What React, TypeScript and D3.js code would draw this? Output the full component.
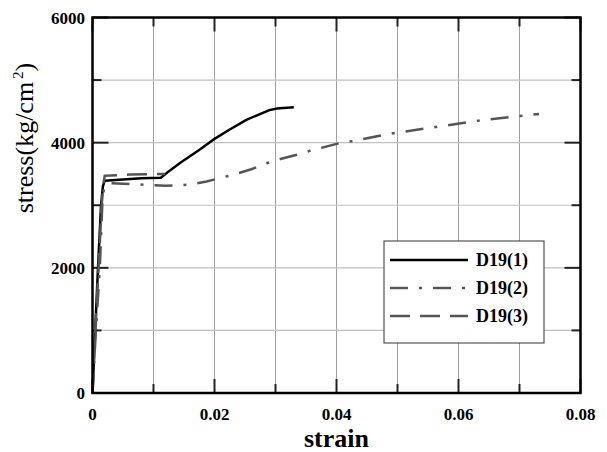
import React from 'react';
import * as d3 from 'd3';

// strain / stress (kg/cm2)
const d19_1: [number, number][] = [
  [0, 0], [0.0004, 900], [0.0009, 2000], [0.0014, 3000], [0.0017, 3300], [0.002, 3390],
  [0.005, 3410], [0.008, 3430], [0.0112, 3440], [0.0127, 3557], [0.0144, 3680],
  [0.0176, 3890], [0.0198, 4048], [0.0225, 4210], [0.0253, 4368], [0.0289, 4517],
  [0.0302, 4544], [0.033, 4565]
];
const d19_2: [number, number][] = [
  [0, 0], [0.0005, 900], [0.0012, 2000], [0.0016, 3000], [0.0019, 3300], [0.003, 3350],
  [0.007, 3335], [0.012, 3310], [0.016, 3330], [0.0187, 3380], [0.0209, 3435],
  [0.0231, 3488], [0.0263, 3584], [0.0283, 3664], [0.0308, 3739], [0.0335, 3808],
  [0.0357, 3872], [0.0406, 3995], [0.0431, 4032], [0.0485, 4139], [0.0559, 4245],
  [0.0636, 4357], [0.0707, 4432], [0.0732, 4459]
];
const d19_3: [number, number][] = [
  [0, 0], [0.0004, 900], [0.001, 2000], [0.0015, 3000], [0.0018, 3350], [0.002, 3472],
  [0.006, 3490], [0.0119, 3500]
];

const seriesNames = ['D19(1)', 'D19(2)', 'D19(3)'];
const xTicks = [0, 0.02, 0.04, 0.06, 0.08];
const xMinor = [0.01, 0.03, 0.05, 0.07];
const yTicks = [0, 2000, 4000, 6000];
const yMinor = [1000, 3000, 5000];

const W = 607;
const H = 452;
const m = { l: 92.5, r: 26.5, t: 17.5, b: 59 };
const font = '"Liberation Serif", "Times New Roman", serif';

export default function App(): JSX.Element {
  const x = d3.scaleLinear().domain([0, 0.08]).range([m.l, W - m.r]);
  const y = d3.scaleLinear().domain([0, 6000]).range([H - m.b, m.t]);
  const line = d3.line<[number, number]>().x((d) => x(d[0])).y((d) => y(d[1]));

  const styles = [
    { stroke: '#000', dash: undefined as string | undefined, w: 2.5 },
    { stroke: '#555', dash: '18,11,3,11', w: 2.5 },
    { stroke: '#555', dash: '20,10', w: 2.5 }
  ];
  const data = [d19_1, d19_2, d19_3];

  const x0 = x(0), x1 = x(0.08), y0 = y(0), y1 = y(6000);

  return (
    <svg width={W} height={H} style={{ position: 'absolute', left: 0, top: 0 }}>
      <rect width={W} height={H} fill="#fff" />
      {/* grid */}
      {[...xTicks, ...xMinor].map((t) => (
        <line key={'gx' + t} x1={x(t)} x2={x(t)} y1={y0} y2={y1} stroke="#a0a0a0" strokeWidth={1} />
      ))}
      {[...yTicks, ...yMinor].map((t) => (
        <line key={'gy' + t} x1={x0} x2={x1} y1={y(t)} y2={y(t)} stroke="#c0c0c0" strokeWidth={1.2} />
      ))}
      {/* ticks, inside on all sides */}
      {xTicks.concat(xMinor).map((t) => {
        const len = xTicks.includes(t) ? 14 : 9;
        return (
          <g key={'tx' + t} stroke="#222" strokeWidth={2}>
            <line x1={x(t)} x2={x(t)} y1={y0} y2={y0 - len} />
            <line x1={x(t)} x2={x(t)} y1={y1} y2={y1 + len} />
          </g>
        );
      })}
      {yTicks.concat(yMinor).map((t) => {
        const len = yTicks.includes(t) ? 16 : 9;
        return (
          <g key={'ty' + t} stroke="#222" strokeWidth={2}>
            <line x1={x0} x2={x0 + len} y1={y(t)} y2={y(t)} />
            <line x1={x1} x2={x1 - len} y1={y(t)} y2={y(t)} />
          </g>
        );
      })}
      {/* series */}
      {data.map((d, i) => (
        <path key={seriesNames[i]} d={line(d) || ''} fill="none" stroke={styles[i].stroke}
          strokeWidth={styles[i].w} strokeDasharray={styles[i].dash} strokeLinejoin="round" />
      ))}
      {/* frame */}
      <rect x={x0} y={y1} width={x1 - x0} height={y0 - y1} fill="none" stroke="#000" strokeWidth={2.5} />
      {/* tick labels */}
      {xTicks.map((t) => (
        <text key={'lx' + t} x={x(t)} y={y0 + 27} textAnchor="middle" fontFamily={font}
          fontWeight="bold" fontSize={17}>{String(t)}</text>
      ))}
      {yTicks.map((t) => (
        <text key={'ly' + t} x={85} y={y(t) + 6} textAnchor="end" fontFamily={font}
          fontWeight="bold" fontSize={17}>{String(t)}</text>
      ))}
      {/* axis titles */}
      <text x={(x0 + x1) / 2} y={447} textAnchor="middle" fontFamily={font} fontWeight="bold"
        fontSize={26}>strain</text>
      <text transform="translate(33,138) rotate(-90)" textAnchor="middle"
        fontFamily={font} fontSize={26}>
        stress(kg/cm<tspan fontSize={15} dx={3} dy={-10}>2</tspan><tspan dy={10}>)</tspan>
      </text>
      {/* legend */}
      <rect x={384} y={241} width={160} height={102} fill="#fff" stroke="#333" strokeWidth={1} />
      {seriesNames.map((n, i) => {
        const ly = 260 + i * 28;
        return (
          <g key={'lg' + n}>
            <line x1={390} x2={468} y1={ly} y2={ly} stroke={styles[i].stroke} strokeWidth={styles[i].w}
              strokeDasharray={styles[i].dash} />
            <text x={476} y={ly + 6} fontFamily={font} fontWeight="bold" fontSize={18}>{n}</text>
          </g>
        );
      })}
    </svg>
  );
}
